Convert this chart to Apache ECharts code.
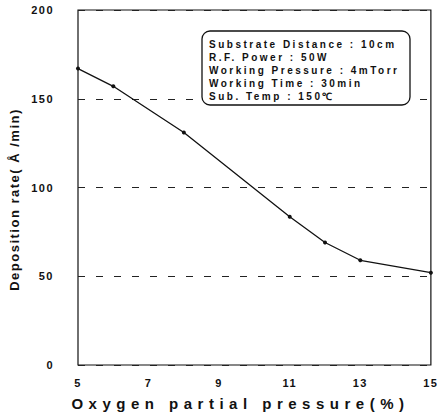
<!DOCTYPE html>
<html>
<head>
<meta charset="utf-8">
<script src="https://cdn.jsdelivr.net/npm/echarts@6/dist/echarts.min.js"></script>
<style>
  html, body { margin: 0; padding: 0; background: #fff; }
  #stage { width: 440px; height: 416px; }
  /* the scanned figure uses widely spaced lettering */
  #stage text { letter-spacing: 1.5px; }
  #stage text[style*="15px"] { letter-spacing: 5.5px; }
  #stage text[style*="10px"] { letter-spacing: 2.5px; }
</style>
</head>
<body>
<div id="stage"></div>
<script>
'use strict';

// 酸素分圧と成膜速度
const oxygen = [5, 6, 8, 11, 12, 13, 15];
const rate = [167, 157, 131, 83.5, 69, 59, 52];
const yTicks = [0, 50, 100, 150, 200];
const xTicks = [5, 7, 9, 11, 13, 15];
const notes = [
  'Substrate Distance : 10cm',
  'R.F. Power : 50W',
  'Working Pressure : 4mTorr',
  'Working Time : 30min',
  'Sub. Temp : 150\u2103'
];

const myChart = echarts.init(document.getElementById('stage'), null, { renderer: 'svg' });
const FONT = '"Liberation Sans", Arial, sans-serif';

let points = [];
for (let i = 0; i < oxygen.length; i++) {
  points.push([oxygen[i], rate[i]]);
}

let graphics = [
  {
    type: 'rect',
    shape: { x: 202, y: 31, width: 208, height: 74, r: 8 },
    style: { fill: '#fff', stroke: '#111', lineWidth: 1.3 },
    z: 10
  }
];
for (let i = 0; i < notes.length; i++) {
  graphics.push({
    type: 'text',
    x: 209,
    y: 44 + i * 13,
    z: 11,
    style: {
      text: notes[i],
      fill: '#111',
      font: 'bold 10px ' + FONT,
      verticalAlign: 'middle'
    }
  });
}

const option = {
  animation: false,
  grid: {
    left: 78,
    right: 8,
    top: 10,
    bottom: 51,
    show: true,
    borderColor: '#111',
    borderWidth: 1.2
  },
  xAxis: {
    type: 'value',
    min: xTicks[0],
    max: xTicks[xTicks.length - 1],
    interval: 2,
    name: 'Oxygen partial pressure(%)',
    nameLocation: 'middle',
    nameGap: 31,
    nameTextStyle: {
      fontFamily: FONT, fontWeight: 'bold', fontSize: 15, color: '#111',
      padding: [0, 28, 0, 0]
    },
    axisLine: { show: false },
    axisTick: { show: false },
    splitLine: { show: false },
    axisLabel: { fontFamily: FONT, fontWeight: 'bold', fontSize: 11, color: '#111', margin: 12 }
  },
  yAxis: {
    type: 'value',
    min: yTicks[0],
    max: yTicks[yTicks.length - 1],
    interval: 50,
    name: 'Deposition rate( \u00c5 /min)',
    nameLocation: 'middle',
    nameGap: 57,
    nameTextStyle: {
      fontFamily: FONT, fontWeight: 'bold', fontSize: 13, color: '#111',
      padding: [0, 24, 0, 0]
    },
    axisLine: { show: false },
    axisTick: { show: false },
    axisLabel: { fontFamily: FONT, fontWeight: 'bold', fontSize: 11, color: '#111', margin: 24 },
    splitLine: {
      show: true,
      lineStyle: { color: '#222', type: [7, 11], width: 1 }
    }
  },
  graphic: graphics,
  series: [
    {
      type: 'line',
      data: points,
      color: '#111',
      symbol: 'circle',
      symbolSize: 4,
      lineStyle: { width: 1.3, color: '#111' },
      itemStyle: { color: '#111' }
    }
  ]
};

myChart.setOption(option);
</script>
</body>
</html>
